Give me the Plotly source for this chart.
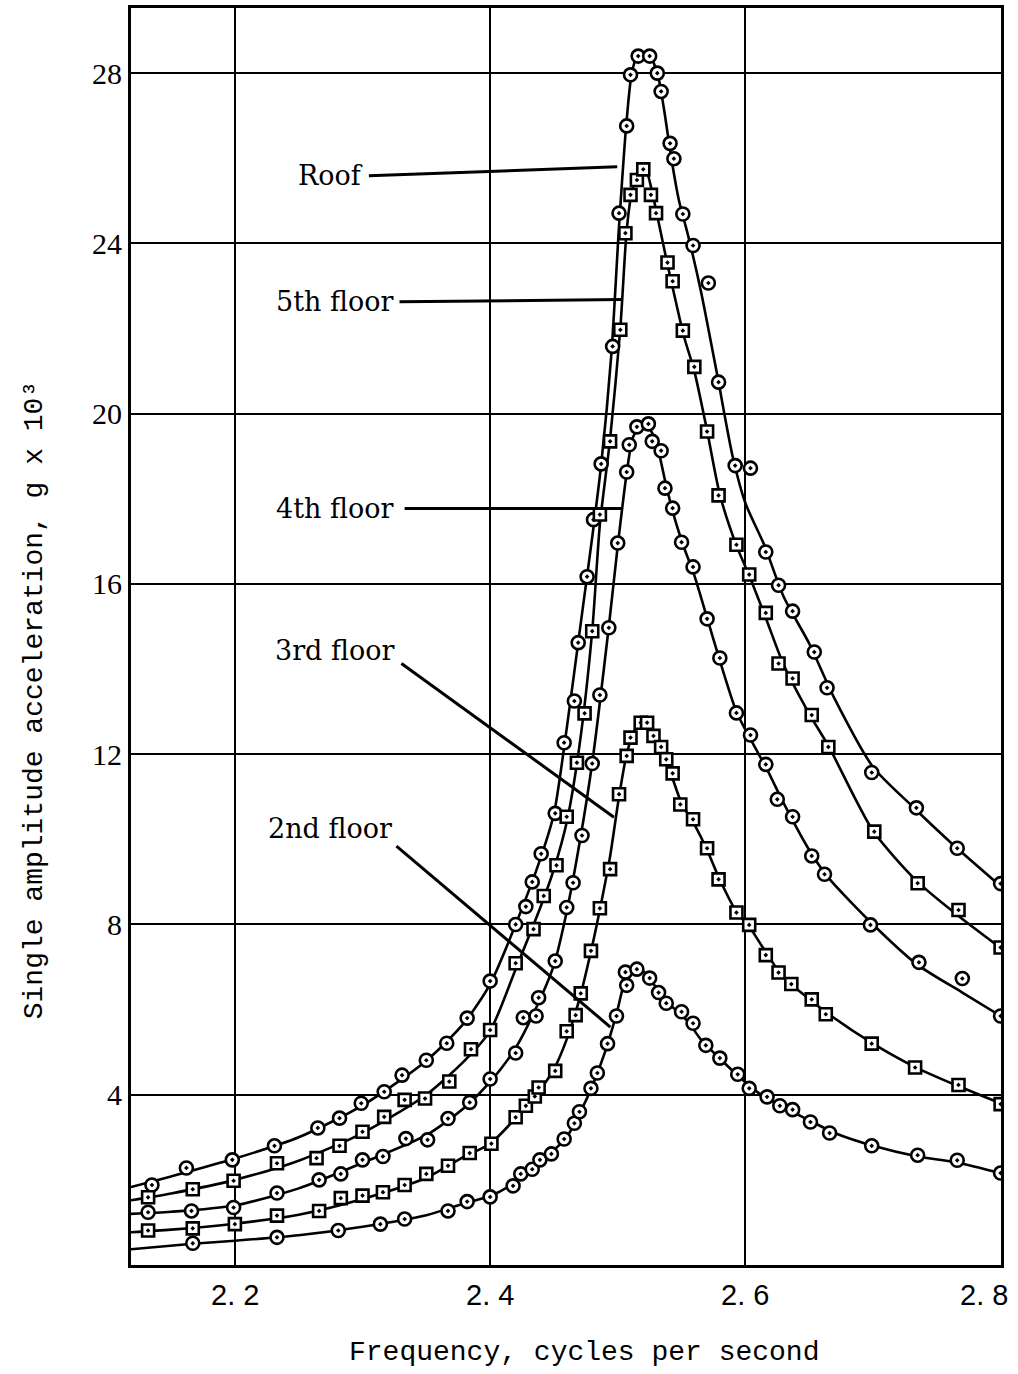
import plotly.graph_objects as go

# ---------------- data ----------------
x_range = [2.1186, 2.8003]
y_range = [0, 29.53]
x_ticks = [2.2, 2.4, 2.6, 2.8]
x_ticktext = ["2. 2", "2. 4", "2. 6", "2. 8"]
y_ticks = [4, 8, 12, 16, 20, 24, 28]

# Roof (circles)
roof_x = [2.135, 2.162, 2.198, 2.231, 2.265, 2.282, 2.299, 2.317, 2.331, 2.350, 2.366, 2.382,
          2.400, 2.420, 2.428, 2.433, 2.440, 2.451, 2.458, 2.466, 2.469, 2.476, 2.481, 2.487,
          2.496, 2.501, 2.507, 2.510, 2.516, 2.525, 2.531, 2.534, 2.541, 2.544, 2.551, 2.559,
          2.571, 2.579, 2.592, 2.604, 2.616, 2.626, 2.637, 2.654, 2.664, 2.699, 2.734, 2.766, 2.800]
roof_y = [1.88, 2.28, 2.47, 2.80, 3.22, 3.45, 3.80, 4.07, 4.46, 4.81, 5.21, 5.80,
          6.67, 8.00, 8.42, 9.00, 9.66, 10.61, 12.27, 13.25, 14.62, 16.17, 17.51, 18.82,
          21.58, 24.71, 26.76, 27.96, 28.40, 28.40, 28.00, 27.57, 26.35, 25.99, 24.69, 23.95,
          23.07, 20.74, 18.78, 18.72, 16.75, 15.97, 15.36, 14.40, 13.56, 11.57, 10.74, 9.79, 8.96]
roof_curve_x = [2.1186, 2.15, 2.20, 2.25, 2.30, 2.35, 2.38, 2.40, 2.42, 2.44, 2.45, 2.46, 2.47,
                2.48, 2.487, 2.495, 2.501, 2.507, 2.511, 2.516, 2.524, 2.531, 2.536, 2.542,
                2.548, 2.555, 2.565, 2.578, 2.59, 2.60, 2.615, 2.63, 2.65, 2.67, 2.70, 2.73, 2.76, 2.80]
roof_curve_y = [1.83, 2.08, 2.50, 3.00, 3.75, 4.80, 5.70, 6.60, 8.00, 9.60, 10.60, 12.60, 14.85,
                17.10, 18.80, 21.40, 24.40, 26.90, 28.00, 28.45, 28.45, 28.00, 27.20, 26.00,
                25.00, 24.20, 22.90, 20.90, 19.00, 17.90, 16.90, 15.70, 14.60, 13.30, 11.70, 10.80, 9.95, 8.90]

# 5th floor (squares)
f5_x = [2.132, 2.167, 2.199, 2.233, 2.264, 2.282, 2.300, 2.317, 2.333, 2.349, 2.368, 2.385,
        2.400, 2.420, 2.434, 2.442, 2.452, 2.460, 2.468, 2.474, 2.480, 2.486, 2.494, 2.502,
        2.506, 2.510, 2.515, 2.520, 2.526, 2.530, 2.539, 2.543, 2.551, 2.560, 2.570, 2.579,
        2.593, 2.603, 2.616, 2.626, 2.637, 2.652, 2.665, 2.701, 2.735, 2.767, 2.800]
f5_y = [1.59, 1.78, 1.98, 2.39, 2.51, 2.80, 3.13, 3.48, 3.88, 3.91, 4.31, 5.07,
        5.52, 7.09, 7.89, 8.67, 9.39, 10.53, 11.80, 12.96, 14.89, 17.63, 19.35, 21.97,
        24.24, 25.14, 25.49, 25.74, 25.14, 24.71, 23.55, 23.11, 21.95, 21.10, 19.58, 18.08,
        16.92, 16.22, 15.32, 14.13, 13.78, 12.92, 12.17, 10.18, 8.97, 8.34, 7.46]
f5_curve_x = [2.1186, 2.15, 2.20, 2.25, 2.30, 2.35, 2.38, 2.40, 2.42, 2.44, 2.45, 2.46, 2.47,
              2.48, 2.486, 2.494, 2.502, 2.507, 2.511, 2.517, 2.522, 2.527, 2.532, 2.539,
              2.545, 2.552, 2.56, 2.57, 2.58, 2.593, 2.603, 2.616, 2.63, 2.65, 2.665, 2.70,
              2.735, 2.767, 2.80]
f5_curve_y = [1.52, 1.68, 2.00, 2.45, 3.10, 4.00, 4.80, 5.50, 6.95, 8.45, 9.30, 10.40, 12.20,
              14.90, 17.40, 19.40, 22.00, 24.30, 25.20, 25.72, 25.72, 25.20, 24.50, 23.50,
              22.70, 21.80, 21.00, 19.60, 18.10, 16.90, 16.20, 15.20, 14.10, 12.95, 12.20, 10.20,
              9.00, 8.20, 7.45]

# 4th floor (circles)
f4_x = [2.132, 2.166, 2.199, 2.233, 2.266, 2.283, 2.300, 2.316, 2.334, 2.351, 2.367, 2.384,
        2.400, 2.420, 2.426, 2.436, 2.438, 2.451, 2.460, 2.465, 2.472, 2.480, 2.486, 2.493,
        2.500, 2.507, 2.509, 2.515, 2.524, 2.527, 2.534, 2.537, 2.543, 2.550, 2.559, 2.570,
        2.580, 2.593, 2.604, 2.616, 2.625, 2.637, 2.652, 2.662, 2.698, 2.736, 2.770, 2.800]
f4_y = [1.24, 1.27, 1.35, 1.69, 2.00, 2.14, 2.47, 2.55, 2.97, 2.94, 3.44, 3.82,
        4.37, 4.98, 5.81, 5.85, 6.28, 7.14, 8.40, 8.98, 10.09, 11.78, 13.39, 14.97,
        16.96, 18.63, 19.27, 19.69, 19.76, 19.35, 19.13, 18.25, 17.78, 16.98, 16.40, 15.18,
        14.26, 12.97, 12.45, 11.76, 10.94, 10.53, 9.61, 9.18, 7.99, 7.11, 6.73, 5.85]
f4_curve_x = [2.1186, 2.15, 2.20, 2.25, 2.30, 2.35, 2.38, 2.40, 2.42, 2.44, 2.45, 2.46, 2.47,
              2.48, 2.493, 2.50, 2.507, 2.512, 2.519, 2.526, 2.532, 2.538, 2.545, 2.552,
              2.56, 2.57, 2.58, 2.593, 2.605, 2.616, 2.63, 2.65, 2.665, 2.70, 2.735, 2.77, 2.80]
f4_curve_y = [1.20, 1.25, 1.40, 1.80, 2.40, 3.05, 3.70, 4.30, 5.10, 6.30, 7.05, 8.30, 9.90,
              11.80, 15.00, 16.90, 18.60, 19.45, 19.75, 19.60, 19.10, 18.30, 17.50, 16.85,
              16.20, 15.20, 14.20, 13.00, 12.30, 11.70, 10.85, 9.75, 9.10, 8.00, 7.05, 6.40, 5.85]

# 3rd floor (squares)
f3_x = [2.132, 2.167, 2.200, 2.233, 2.266, 2.283, 2.300, 2.316, 2.333, 2.350, 2.367, 2.384,
        2.401, 2.420, 2.428, 2.435, 2.438, 2.451, 2.460, 2.467, 2.471, 2.479, 2.486, 2.494,
        2.501, 2.507, 2.510, 2.518, 2.523, 2.528, 2.534, 2.538, 2.543, 2.549, 2.559, 2.570,
        2.579, 2.593, 2.603, 2.616, 2.626, 2.636, 2.652, 2.663, 2.699, 2.733, 2.767, 2.800]
f3_y = [0.81, 0.86, 0.96, 1.16, 1.27, 1.57, 1.63, 1.71, 1.88, 2.14, 2.33, 2.63,
        2.85, 3.47, 3.74, 3.96, 4.17, 4.56, 5.49, 5.87, 6.38, 7.38, 8.38, 9.30,
        11.06, 11.96, 12.39, 12.74, 12.74, 12.43, 12.17, 11.88, 11.55, 10.82, 10.47, 9.79,
        9.06, 8.28, 7.99, 7.28, 6.87, 6.60, 6.24, 5.89, 5.20, 4.64, 4.23, 3.78]
f3_curve_x = [2.1186, 2.15, 2.20, 2.25, 2.30, 2.35, 2.38, 2.40, 2.42, 2.44, 2.45, 2.46, 2.47,
              2.48, 2.487, 2.494, 2.501, 2.507, 2.513, 2.52, 2.527, 2.534, 2.541, 2.55, 2.56,
              2.57, 2.58, 2.593, 2.603, 2.616, 2.63, 2.65, 2.665, 2.70, 2.733, 2.767, 2.80]
f3_curve_y = [0.77, 0.83, 0.97, 1.18, 1.55, 2.05, 2.55, 2.85, 3.45, 4.15, 4.60, 5.30, 6.25,
              7.50, 8.50, 9.60, 11.00, 12.00, 12.55, 12.75, 12.55, 12.15, 11.60, 10.85, 10.35,
              9.75, 9.05, 8.30, 7.95, 7.35, 6.75, 6.25, 5.90, 5.20, 4.65, 4.20, 3.80]

# 2nd floor (circles)
f2_x = [2.167, 2.233, 2.281, 2.314, 2.333, 2.367, 2.382, 2.400, 2.418, 2.424, 2.433, 2.439,
        2.448, 2.458, 2.466, 2.470, 2.479, 2.484, 2.492, 2.499, 2.506, 2.507, 2.515, 2.525,
        2.532, 2.538, 2.550, 2.559, 2.569, 2.580, 2.594, 2.603, 2.617, 2.627, 2.637, 2.651,
        2.666, 2.699, 2.735, 2.766, 2.800]
f2_y = [0.51, 0.65, 0.81, 0.96, 1.08, 1.27, 1.49, 1.60, 1.86, 2.14, 2.25, 2.47,
        2.61, 2.96, 3.33, 3.60, 4.15, 4.51, 5.20, 5.85, 6.88, 6.57, 6.95, 6.74,
        6.40, 6.15, 5.95, 5.68, 5.16, 4.86, 4.48, 4.15, 3.95, 3.74, 3.65, 3.36,
        3.10, 2.80, 2.58, 2.46, 2.16]
f2_curve_x = [2.1186, 2.167, 2.20, 2.25, 2.30, 2.35, 2.38, 2.40, 2.42, 2.44, 2.45, 2.46, 2.47,
              2.48, 2.49, 2.499, 2.506, 2.512, 2.52, 2.527, 2.535, 2.545, 2.555, 2.565, 2.58,
              2.594, 2.61, 2.63, 2.65, 2.67, 2.70, 2.735, 2.767, 2.80]
f2_curve_y = [0.37, 0.50, 0.57, 0.70, 0.90, 1.17, 1.45, 1.62, 1.95, 2.45, 2.70, 3.00, 3.55,
              4.20, 5.00, 5.90, 6.70, 6.95, 6.90, 6.65, 6.30, 6.00, 5.72, 5.30, 4.85,
              4.45, 4.05, 3.70, 3.40, 3.10, 2.80, 2.55, 2.40, 2.15]

# curve labels with leader lines
label_text = ["Roof", "5th floor", "4th floor", "3rd floor", "2nd floor"]
label_x = [2.302, 2.3265, 2.3265, 2.3265, 2.3250]
label_y = [25.59, 22.63, 17.77, 14.44, 10.26]
leader_x0 = [2.305, 2.329, 2.333, 2.3305, 2.3266]
leader_y0 = [25.59, 22.63, 17.77, 14.13, 9.84]
leader_x1 = [2.4996, 2.503, 2.503, 2.497, 2.4942]
leader_y1 = [25.80, 22.68, 17.77, 10.52, 5.59]

series = [
    (roof_curve_x, roof_curve_y, roof_x, roof_y, "circle-dot", "Roof"),
    (f5_curve_x, f5_curve_y, f5_x, f5_y, "square-dot", "5th floor"),
    (f4_curve_x, f4_curve_y, f4_x, f4_y, "circle-dot", "4th floor"),
    (f3_curve_x, f3_curve_y, f3_x, f3_y, "square-dot", "3rd floor"),
    (f2_curve_x, f2_curve_y, f2_x, f2_y, "circle-dot", "2nd floor"),
]

fig = go.Figure()
for cx, cy, mx, my, sym, name in series:
    fig.add_trace(go.Scatter(x=cx, y=cy, mode="lines",
                             line=dict(color="black", width=2.6, shape="spline", smoothing=0.7),
                             hoverinfo="skip", showlegend=False))
for cx, cy, mx, my, sym, name in series:
    fig.add_trace(go.Scatter(x=mx, y=my, mode="markers", name=name, showlegend=False,
                             marker=dict(symbol=sym, size=13 if sym.startswith("circle") else 12,
                                         color="white", line=dict(color="black", width=2.6))))

for t, lx, ly, x0, y0, x1, y1 in zip(label_text, label_x, label_y,
                                      leader_x0, leader_y0, leader_x1, leader_y1):
    fig.add_shape(type="line", x0=x0, y0=y0, x1=x1, y1=y1, xref="x", yref="y",
                  line=dict(color="black", width=3))
    fig.add_annotation(x=lx, y=ly, xref="x", yref="y", text=t, showarrow=False,
                       xanchor="right", yanchor="middle",
                       font=dict(family="DejaVu Serif", size=27, color="black"))

# x tick labels (the last one is kept inside the page, as in the reference)
for i, (tv, tt) in enumerate(zip(x_ticks, x_ticktext)):
    last = i == len(x_ticks) - 1
    fig.add_annotation(x=tv, xref="x", y=0, yref="paper", text=tt, showarrow=False,
                       xanchor="right" if last else "center", yanchor="top",
                       xshift=9 if last else 0, yshift=-12,
                       font=dict(family="Liberation Sans", size=29, color="black"))

fig.add_annotation(xref="paper", yref="paper", x=-0.110, y=0.4495, textangle=-90,
                   text="Single amplitude acceleration, g x 10³", showarrow=False,
                   xanchor="center", yanchor="middle",
                   font=dict(family="Liberation Mono", size=28, color="black"))
fig.add_annotation(xref="paper", yref="paper", x=0.5207, y=-0.070,
                   text="Frequency, cycles per second", showarrow=False,
                   xanchor="center", yanchor="middle",
                   font=dict(family="Liberation Mono", size=28, color="black"))

fig.update_xaxes(range=x_range, tickvals=x_ticks, showticklabels=False,
                 showgrid=True, gridcolor="black", gridwidth=2,
                 showline=True, linecolor="black", linewidth=3, mirror=True,
                 ticks="", zeroline=False, automargin=False)
fig.update_yaxes(range=y_range, tickvals=y_ticks,
                 showgrid=True, gridcolor="black", gridwidth=2,
                 showline=True, linecolor="black", linewidth=3, mirror=True,
                 ticks="", zeroline=False, ticklabelstandoff=0, automargin=False,
                 tickfont=dict(family="Liberation Serif", size=30, color="black"))

fig.update_layout(width=1018, height=1374, autosize=False,
                  margin=dict(l=131, r=17, t=8, b=109),
                  paper_bgcolor="white", plot_bgcolor="white", showlegend=False)

fig.write_html("out.html")
